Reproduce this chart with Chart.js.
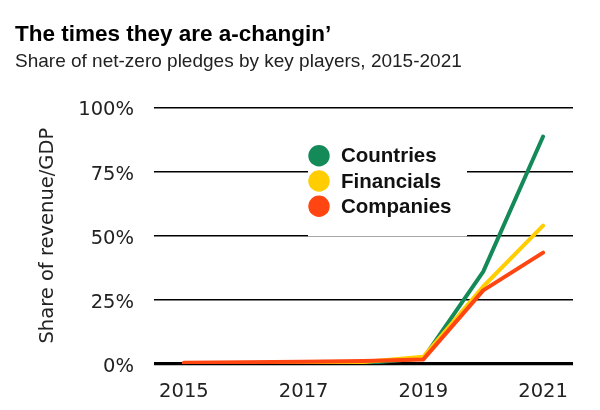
<!DOCTYPE html>
<html>
<head>
<meta charset="utf-8">
<script src="https://cdn.jsdelivr.net/npm/chart.js@4.4.1/dist/chart.umd.min.js"></script>
<style>
  html, body { margin: 0; padding: 0; background: #fff; }
  #wrap { width: 600px; height: 410px; }
</style>
</head>
<body>
<div id="wrap"><canvas id="chart"></canvas></div>
<script>
// data
const years = ["2015", "2016", "2017", "2018", "2019", "2020", "2021"];
const countries = [0, 0, 0, 0.3, 2.2, 36, 88.6];
const financials = [0, 0.1, 0.3, 0.8, 2.8, 30.2, 53.9];
const companies = [0.5, 0.7, 0.9, 1.2, 1.8, 28.7, 43.4];
const yTicks = [0, 25, 50, 75, 100];

const green = "#138a57";
const yellow = "#ffcd00";
const red = "#ff4612";

// legend drawn as a white box sitting on the gridlines
const boxLegend = {
  id: "boxLegend",
  beforeDatasetsDraw(chart) {
    const ctx = chart.ctx;
    const area = chart.chartArea;
    const x0 = area.left + 154;
    const y0 = area.top + 31;
    ctx.save();
    ctx.fillStyle = "#fff";
    ctx.fillRect(x0, y0, 159, 98);
    chart.data.datasets.forEach((ds, i) => {
      const cy = area.top + 48.5 + i * 25.2;
      ctx.beginPath();
      ctx.fillStyle = ds.borderColor;
      ctx.arc(x0 + 11, cy, 10.7, 0, Math.PI * 2);
      ctx.fill();
      ctx.fillStyle = "#111";
      ctx.font = "bold 20.5px 'Liberation Sans'";
      ctx.textBaseline = "middle";
      ctx.fillText(ds.label, x0 + 33, cy + 1);
    });
    ctx.restore();
  }
};

const line = (label, data, color, order) => ({
  label,
  data,
  borderColor: color,
  backgroundColor: color,
  borderWidth: 4,
  borderCapStyle: "round",
  borderJoinStyle: "round",
  pointRadius: 0,
  tension: 0,
  order
});

const ctx = document.getElementById("chart").getContext("2d");

new Chart(ctx, {
  type: "line",
  data: {
    labels: years,
    datasets: [
      line("Countries", countries, green, 3),
      line("Financials", financials, yellow, 2),
      line("Companies", companies, red, 1)
    ]
  },
  options: {
    responsive: true,
    maintainAspectRatio: false,
    animation: false,
    layout: { padding: { left: 15, right: 27, top: 0, bottom: 0 } },
    plugins: {
      legend: { display: false },
      tooltip: { enabled: false },
      title: {
        display: true,
        text: "The times they are a-changin\u2019",
        align: "start",
        color: "#000",
        font: { family: "'Liberation Sans'", size: 22.5, weight: "bold", lineHeight: 1.2 },
        padding: { top: 21.5, bottom: 1.8 }
      },
      subtitle: {
        display: true,
        text: "Share of net-zero pledges by key players, 2015-2021",
        align: "start",
        color: "#222",
        font: { family: "'Liberation Sans'", size: 19, lineHeight: 1.2 },
        padding: { top: 0, bottom: 34.2 }
      }
    },
    scales: {
      x: {
        type: "category",
        offset: true,
        grid: { display: false },
        border: { display: false },
        afterFit(scale) { scale.height = 46; },
        ticks: {
          autoSkip: false,
          maxRotation: 0,
          padding: 8,
          color: "#222",
          font: { family: "'DejaVu Sans'", size: 19.5 },
          callback: (val, i) => (i % 2 === 0 ? years[i] : "")
        }
      },
      y: {
        min: 0,
        max: 100,
        afterFit(scale) { scale.width = 139; },
        afterBuildTicks(scale) { scale.ticks = yTicks.map((v) => ({ value: v })); },
        border: { display: false },
        grid: {
          color: "#000",
          drawTicks: false,
          lineWidth: (c) => (c.tick && c.tick.value === 0 ? 3.2 : 1.6)
        },
        title: {
          display: true,
          text: "Share of revenue/GDP",
          color: "#222",
          font: { family: "'DejaVu Sans'", size: 19.5, lineHeight: 1.2 },
          padding: { top: 21, bottom: 0 }
        },
        ticks: {
          padding: 20,
          labelOffset: 3,
          color: "#222",
          font: { family: "'DejaVu Sans'", size: 19.5 },
          callback: (v) => v + "%"
        }
      }
    }
  },
  plugins: [boxLegend]
});
</script>
</body>
</html>
